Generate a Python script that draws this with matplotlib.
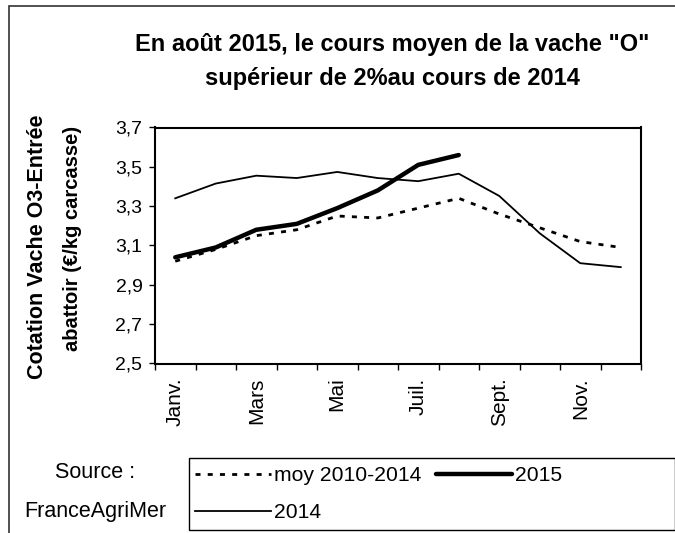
import matplotlib

matplotlib.use("Agg")
import matplotlib.pyplot as plt
from matplotlib.patches import Rectangle
from matplotlib.ticker import FuncFormatter

months = ["Janv.", "Févr.", "Mars", "Avr.", "Mai", "Juin",
          "Juil.", "Août", "Sept.", "Oct.", "Nov.", "Déc."]
moy_2010_2014 = [3.02, 3.08, 3.15, 3.18, 3.25, 3.24, 3.29, 3.34, 3.26, 3.19, 3.12, 3.09]
cours_2015 = [3.04, 3.09, 3.18, 3.21, 3.29, 3.38, 3.51, 3.56]
cours_2014 = [3.34, 3.415, 3.455, 3.443, 3.474, 3.443, 3.427, 3.465, 3.352, 3.162, 3.01, 2.99]
yticks = [2.5, 2.7, 2.9, 3.1, 3.3, 3.5, 3.7]

plt.rcParams["font.family"] = ["Liberation Sans", "DejaVu Sans"]

W, H = 675, 533
fig = plt.figure(figsize=(W / 100, H / 100), dpi=100)

# outer chart frame (left and top visible, rest runs off the image)
fig.patches.append(Rectangle((9 / W, -0.1), 1.2, 1.1 - 6 / H, transform=fig.transFigure,
                             fill=False, edgecolor="#333333", lw=1.2))

ax = fig.add_axes([155 / W, 1 - 363.5 / H, 486 / W, 236 / H])
x = list(range(len(months)))
ax.plot(x, moy_2010_2014, color="black", lw=2, ls=(0, (1.8, 2.6)), label="moy 2010-2014")
ax.plot(x[:len(cours_2015)], cours_2015, color="black", lw=3.2, label="2015",
        solid_capstyle="round")
ax.plot(x, cours_2014, color="black", lw=1.3, label="2014")

ax.set_xlim(-0.5, len(months) - 0.5)
ax.set_ylim(2.5, 3.7)
ax.set_yticks(yticks)
ax.yaxis.set_major_formatter(FuncFormatter(lambda v, p: f"{v:.1f}".replace(".", ",")))
ax.set_xticks([i - 0.5 for i in range(len(months) + 1)])
ax.set_xticklabels([])
ax.set_xticks(x[::2], minor=True)
ax.set_xticklabels(months[::2], minor=True, rotation=90, fontsize=15)
ax.tick_params(axis="x", which="minor", length=0, pad=10)
ax.tick_params(axis="x", which="major", length=4, width=1, direction="out")
ax.tick_params(axis="y", length=4, width=1, direction="out", labelsize=14, pad=5)
for sp in ax.spines.values():
    sp.set_linewidth(1.5)

# title
fig.text(392 / W, 1 - 45 / H, 'En août 2015, le cours moyen de la vache "O"',
         ha="center", va="center", fontsize=17, fontweight="bold")
fig.text(392 / W, 1 - 78 / H, "supérieur de 2%au cours de 2014",
         ha="center", va="center", fontsize=17, fontweight="bold")

# y axis label on two lines
fig.text(38 / W, 1 - 247 / H, "Cotation Vache O3-Entrée", rotation=90,
         ha="center", va="center", fontsize=15.5, fontweight="bold")
fig.text(72 / W, 1 - 238 / H, "abattoir (€/kg carcasse)", rotation=90,
         ha="center", va="center", fontsize=14.5, fontweight="bold")

# source
fig.text(95 / W, 1 - 473 / H, "Source :", ha="center", va="center", fontsize=15.5)
fig.text(95 / W, 1 - 512 / H, "FranceAgriMer", ha="center", va="center", fontsize=15.5)

# legend
fig.patches.append(Rectangle((189 / W, 1 - 530 / H), 486 / W, 72 / H,
                             transform=fig.transFigure, fill=False,
                             edgecolor="black", lw=1))
h, l = ax.get_legend_handles_labels()
order = [0, 2, 1]
fig.legend([h[i] for i in order], [l[i] for i in order], ncol=2,
           loc="upper left", bbox_to_anchor=(189 / W, 1 - 460 / H),
           frameon=False, fontsize=15.2, handlelength=3.6, handletextpad=0.12,
           columnspacing=0.7, labelspacing=0.85, borderpad=0.3, borderaxespad=0)

fig.savefig("out.png", dpi=100)
